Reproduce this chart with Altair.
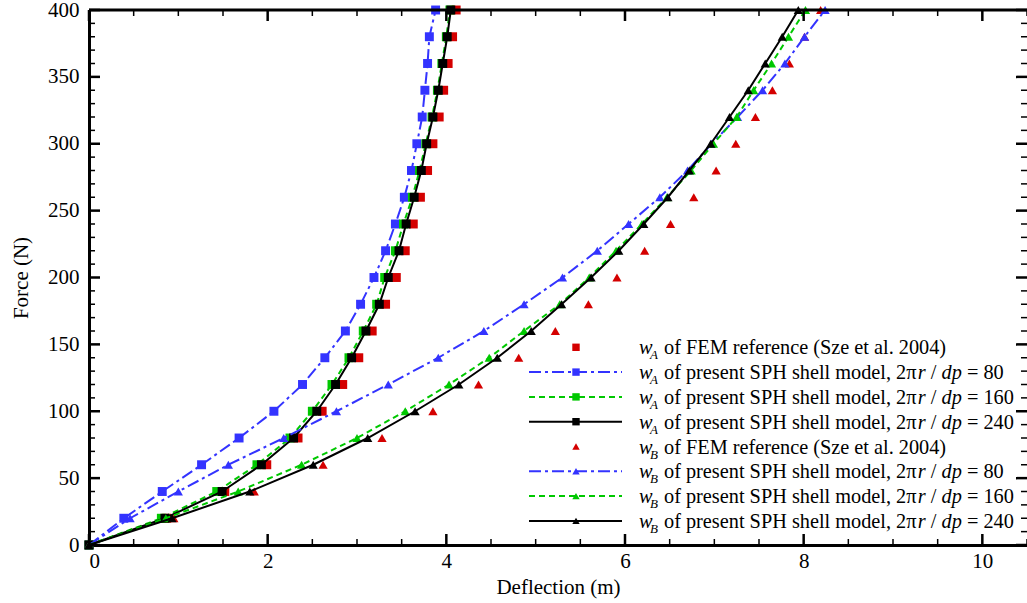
import altair as alt
import pandas as pd

# ---------------- data ----------------
F = [0, 20, 40, 60, 80, 100, 120, 140, 160, 180, 200, 220, 240, 260, 280, 300, 320, 340, 360, 380, 400]

wA_fem = [0, 0.87, 1.52, 1.99, 2.34, 2.61, 2.84, 3.02, 3.17, 3.32, 3.44, 3.54, 3.63, 3.71, 3.79, 3.85, 3.92, 3.97, 4.02, 4.07, 4.11]
wA_80 = [0, 0.39, 0.82, 1.26, 1.68, 2.07, 2.39, 2.64, 2.87, 3.04, 3.19, 3.32, 3.43, 3.53, 3.61, 3.67, 3.73, 3.76, 3.79, 3.81, 3.88]
wA_160 = [0, 0.81, 1.43, 1.88, 2.25, 2.50, 2.72, 2.91, 3.07, 3.22, 3.31, 3.43, 3.52, 3.62, 3.70, 3.77, 3.84, 3.90, 3.95, 4.00, 4.04]
wA_240 = [0, 0.85, 1.49, 1.93, 2.29, 2.55, 2.76, 2.94, 3.10, 3.25, 3.35, 3.47, 3.55, 3.64, 3.72, 3.78, 3.85, 3.91, 3.96, 4.01, 4.05]

wB_fem = [0, 0.95, 1.85, 2.62, 3.28, 3.85, 4.36, 4.81, 5.22, 5.59, 5.91, 6.22, 6.51, 6.77, 7.02, 7.24, 7.46, 7.65, 7.84, 8.01, 8.19]
wB_80 = [0, 0.46, 1.00, 1.56, 2.18, 2.77, 3.35, 3.91, 4.42, 4.87, 5.30, 5.69, 6.04, 6.39, 6.70, 6.97, 7.26, 7.54, 7.79, 8.01, 8.24]
wB_160 = [0, 0.86, 1.67, 2.38, 3.00, 3.54, 4.03, 4.48, 4.87, 5.27, 5.60, 5.90, 6.19, 6.47, 6.74, 6.99, 7.25, 7.44, 7.64, 7.83, 8.02]
wB_240 = [0, 0.93, 1.80, 2.51, 3.12, 3.65, 4.14, 4.57, 4.95, 5.29, 5.62, 5.93, 6.21, 6.48, 6.72, 6.96, 7.17, 7.38, 7.57, 7.76, 7.94]

x_major = [0, 2, 4, 6, 8, 10]
x_minor = [0.5, 1, 1.5, 2.5, 3, 3.5, 4.5, 5, 5.5, 6.5, 7, 7.5, 8.5, 9, 9.5, 10.5]
y_major = [0, 50, 100, 150, 200, 250, 300, 350, 400]
y_minor = [10, 20, 30, 40, 60, 70, 80, 90, 110, 120, 130, 140, 160, 170, 180, 190,
           210, 220, 230, 240, 260, 270, 280, 290, 310, 320, 330, 340, 360, 370, 380, 390]

legend_sub = ["A", "A", "A", "A", "B", "B", "B", "B"]
legend_main = ["of FEM reference (Sze et al. 2004)", "of present SPH shell model, 2\u03c0",
               "of present SPH shell model, 2\u03c0", "of present SPH shell model, 2\u03c0",
               "of FEM reference (Sze et al. 2004)", "of present SPH shell model, 2\u03c0",
               "of present SPH shell model, 2\u03c0", "of present SPH shell model, 2\u03c0"]
legend_dp = ["", "80", "160", "240", "", "80", "160", "240"]

# ---------------- styles ----------------
FONT = "Liberation Serif, Times New Roman, serif"
W, H = 938, 535
XMAX = 10.5
RED, BLUE, GREEN, BLACK = "#D40000", "#3333FF", "#00C800", "#000000"
DASHDOT = [12, 4, 3, 4]
DASH = [6, 4]

series = [
    # values, color, shape, dash, has_line
    (wA_fem, RED, "square", None, False),
    (wA_80, BLUE, "square", DASHDOT, True),
    (wA_160, GREEN, "square", DASH, True),
    (wA_240, BLACK, "square", None, True),
    (wB_fem, RED, "triangle-up", None, False),
    (wB_80, BLUE, "triangle-up", DASHDOT, True),
    (wB_160, GREEN, "triangle-up", DASH, True),
    (wB_240, BLACK, "triangle-up", None, True),
]

xs = alt.Scale(domain=[0, XMAX], nice=False, zero=False)
ys = alt.Scale(domain=[0, 400], nice=False, zero=False)
xaxis = alt.Axis(values=x_major, format="d", ticks=False, grid=False, domain=True,
                 domainColor="black", domainWidth=3, labelFont=FONT, labelFontSize=21,
                 labelColor="black", labelPadding=5, titleFont=FONT, titleFontSize=21,
                 titleFontWeight="normal", titleColor="black", titlePadding=5)
yaxis = alt.Axis(values=y_major, format="d", ticks=False, grid=False, domain=True,
                 domainColor="black", domainWidth=3, labelFont=FONT, labelFontSize=21,
                 labelColor="black", labelPadding=10, titleFont=FONT, titleFontSize=21,
                 titleFontWeight="normal", titleColor="black", titlePadding=16)


def X(field):
    return alt.X(field, type="quantitative", scale=xs, axis=xaxis, title="Deflection (m)")


def Y(field):
    return alt.Y(field, type="quantitative", scale=ys, axis=yaxis, title="Force (N)")


layers = []
dummy = pd.DataFrame({"k": [0]})

for group in (series[:4], series[4:]):
    for vals, color, shape, dash, has_line in group:
        df = pd.DataFrame({"w": vals, "F": F})
        if has_line:
            kw = dict(color=color, strokeWidth=2)
            if dash:
                kw["strokeDash"] = dash
            layers.append(alt.Chart(df).mark_line(**kw).encode(x=X("w"), y=Y("F"), order="F:Q"))
        layers.append(alt.Chart(df).mark_point(shape=shape, filled=True, color=color, opacity=1,
                                               size=80 if shape == "square" else 85)
                      .encode(x=X("w"), y=Y("F")))


def tick_layers(vals, axis_char, length, width):
    df = pd.DataFrame({"v": vals})
    out = []
    if axis_char == "x":
        for y0, y1 in ((H, H - length), (0, length)):
            out.append(alt.Chart(df).mark_rule(color="black", strokeWidth=width).encode(
                x=X("v"), y=alt.value(y0), y2=alt.value(y1)))
    else:
        for x0, x1 in ((0, length), (W, W - length)):
            out.append(alt.Chart(df).mark_rule(color="black", strokeWidth=width).encode(
                y=Y("v"), x=alt.value(x0), x2=alt.value(x1)))
    return out


layers += tick_layers(x_major, "x", 11, 2.5)
layers += tick_layers(x_minor, "x", 6, 1.5)
layers += tick_layers(y_major, "y", 11, 2.5)
layers += tick_layers(y_minor, "y", 6, 1.5)

layers.append(alt.Chart(dummy).mark_rule(color="black", strokeWidth=3).encode(
    x=alt.value(0), x2=alt.value(W), y=alt.value(0)))

# ---------------- legend ----------------
TNR = {" ": 250, ",": 250, ".": 250, "/": 278, "=": 564, "(": 333, ")": 333,
       "0": 500, "1": 500, "2": 500, "4": 500, "6": 500, "8": 500, "\u03c0": 560,
       "a": 444, "c": 444, "d": 500, "e": 444, "f": 333, "h": 500, "l": 278, "m": 778,
       "n": 500, "o": 500, "p": 500, "r": 333, "s": 389, "t": 278, "z": 444,
       "E": 611, "F": 556, "H": 722, "M": 889, "P": 556, "S": 556}
TNR_I = {"r": 389, "d": 500, "p": 500, "w": 667}
LFS = 20.3


def tw(s, italic=False):
    tab = TNR_I if italic else TNR
    return sum(tab.get(c, 500) for c in s) * LFS / 1000.0


def txt(x, y, s, italic=False, size=LFS):
    return alt.Chart(dummy).mark_text(font=FONT, fontSize=size, fontStyle="italic" if italic else "normal",
                                      align="left", baseline="alphabetic", color="black").encode(
        x=alt.value(x), y=alt.value(y), text=alt.value(s))


LX0, LX1, LXM = 440, 533, 487
TX_W, TX_SUB, TX_MAIN = 550, 561, 575
ROW0, ROWSTEP = 337.3, 24.8
for i, (vals, color, shape, dash, has_line) in enumerate(series):
    yc = ROW0 + ROWSTEP * i
    if has_line:
        kw = dict(color=color, strokeWidth=2)
        if dash:
            kw["strokeDash"] = dash
        layers.append(alt.Chart(dummy).mark_rule(**kw).encode(
            x=alt.value(LX0), x2=alt.value(LX1), y=alt.value(yc)))
    layers.append(alt.Chart(dummy).mark_point(shape=shape, filled=True, color=color, opacity=1, size=55).encode(
        x=alt.value(LXM), y=alt.value(yc)))
    yb = yc + 7
    layers.append(txt(TX_W, yb, "w", italic=True))
    layers.append(txt(TX_SUB, yb + 5, legend_sub[i], italic=True, size=13))
    layers.append(txt(TX_MAIN, yb, legend_main[i]))
    if legend_dp[i]:
        xr = TX_MAIN + tw(legend_main[i])
        layers.append(txt(xr, yb, "r", italic=True))
        xs_ = xr + tw("r", True) + tw(" ")
        layers.append(txt(xs_, yb, "/"))
        xd = xs_ + tw("/") + tw(" ")
        layers.append(txt(xd, yb, "dp", italic=True))
        xe = xd + tw("dp", True) + tw(" ")
        layers.append(txt(xe, yb, "="))
        xn = xe + tw("=") + tw(" ")
        layers.append(txt(xn, yb, legend_dp[i]))

chart = alt.layer(*layers).properties(
    width=W, height=H,
    autosize=alt.AutoSizeParams(type="none"),
    padding={"left": 89, "top": 10, "right": 0, "bottom": 58},
    background="white",
).configure_view(stroke=None)

chart.save("out.html", embed_options={"renderer": "svg", "actions": False})
